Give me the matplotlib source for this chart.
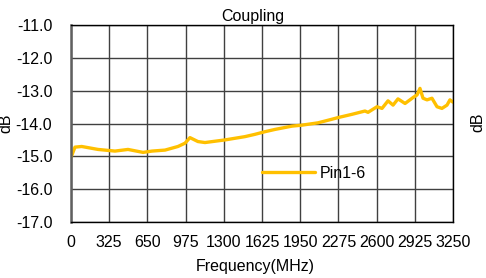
import matplotlib
matplotlib.use("Agg")
import matplotlib.pyplot as plt
from matplotlib.ticker import FormatStrFormatter

plt.rcParams['font.family'] = ['Liberation Sans', 'DejaVu Sans']
plt.rcParams['axes.unicode_minus'] = False

freq = [0, 34, 91, 230, 374, 485, 613, 689, 800, 910, 970, 1012, 1080, 1140,
        1310, 1480, 1565, 1650, 1736, 1880, 1965, 2101, 2220, 2272, 2391, 2501,
        2527, 2603, 2646, 2697, 2740, 2782, 2842, 2910, 2944, 2969, 2995, 3029,
        3071, 3114, 3156, 3199, 3224, 3250]
coupling = [-15.03, -14.72, -14.70, -14.79, -14.84, -14.79, -14.88, -14.84, -14.81,
            -14.70, -14.60, -14.43, -14.55, -14.58, -14.50, -14.40, -14.33, -14.25,
            -14.18, -14.08, -14.05, -13.98, -13.87, -13.82, -13.72, -13.62, -13.66,
            -13.49, -13.54, -13.31, -13.44, -13.25, -13.39, -13.21, -13.13, -12.93,
            -13.23, -13.28, -13.23, -13.49, -13.54, -13.44, -13.28, -13.35]
xticks = [0, 325, 650, 975, 1300, 1625, 1950, 2275, 2600, 2925, 3250]
yticks = [-17, -16, -15, -14, -13, -12, -11]
series_name = "Pin1-6"

FS = 11.5
W, H = 486, 278
fig = plt.figure(figsize=(W / 100, H / 100), dpi=100)
ax = fig.add_axes([71 / W, (H - 222) / H, (453 - 71) / W, (222 - 25) / H])

ax.plot(freq, coupling, color='#FFC000', lw=2.4, label=series_name,
        solid_joinstyle='round', solid_capstyle='round')
ax.set_xlim(0, 3250)
ax.set_ylim(-17, -11)
ax.set_xticks(xticks)
ax.set_yticks(yticks)
ax.yaxis.set_major_formatter(FormatStrFormatter('%.1f'))
ax.grid(True, color='#404040', lw=1)
ax.set_axisbelow(True)
ax.tick_params(length=0, labelsize=FS)
ax.tick_params(axis='y', pad=13.5)
ax.tick_params(axis='x', pad=9.5)
for s in ax.spines.values():
    s.set_color('black')
    s.set_linewidth(1)
ax.spines['left'].set_color('#606060')
ax.spines['left'].set_linewidth(1.8)

leg = ax.legend(loc='center left', bbox_to_anchor=((262 - 71) / 382, (222 - 173) / 197),
                frameon=False, fontsize=FS, handlelength=3.3, handletextpad=0.3,
                borderpad=0, borderaxespad=0)

fig.text(253 / W, 1 - 17 / H, "Coupling", ha='center', va='center', fontsize=FS)
fig.text(255 / W, 1 - 267 / H, "Frequency(MHz)", ha='center', va='center', fontsize=FS)
fig.text(478 / W, 1 - 122 / H, "dB", ha='center', va='center', fontsize=FS, rotation=90)
fig.text(6 / W, 1 - 123 / H, "dB", ha='center', va='center', fontsize=FS, rotation=90)

fig.savefig("out.png", dpi=100)
